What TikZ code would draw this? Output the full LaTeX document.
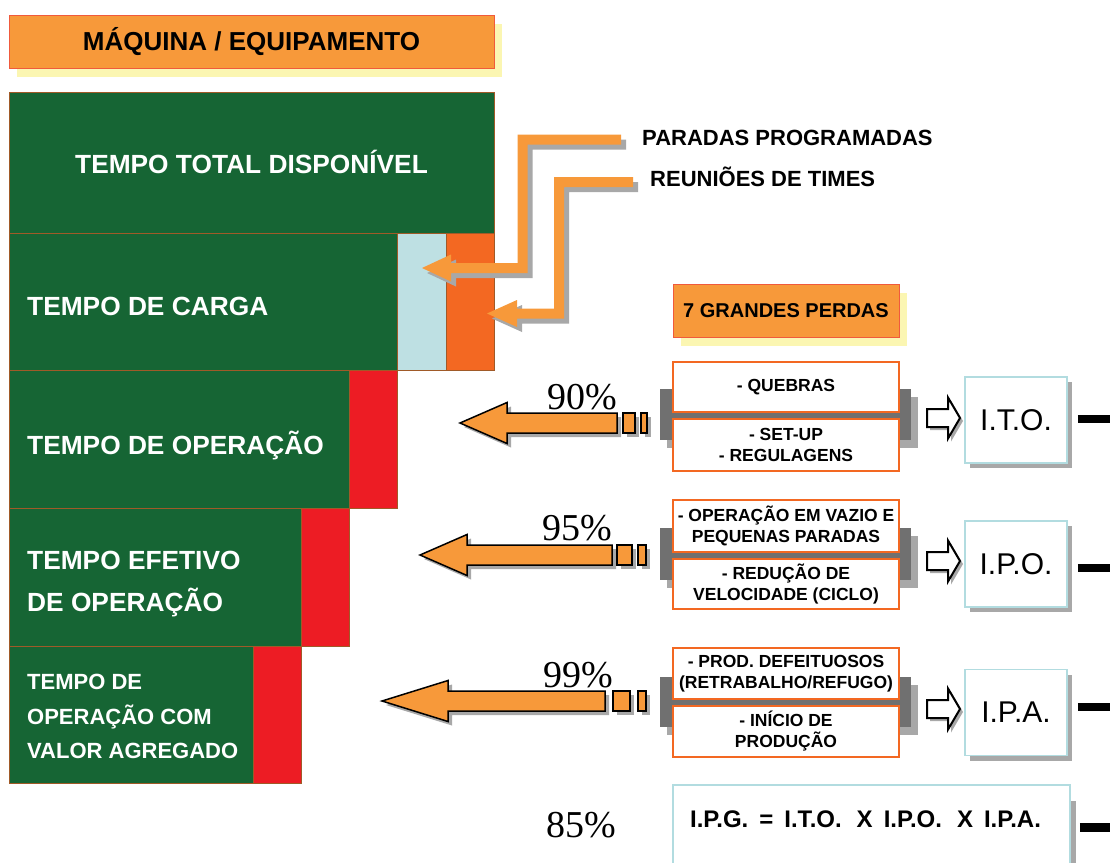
\documentclass[tikz,border=0pt]{standalone}
\usepackage{fontspec}
\setmainfont{Liberation Sans}
\newfontfamily\serifpct{Liberation Serif}
\usetikzlibrary{shadows}

\definecolor{dkgreen}{RGB}{22,101,52}
\definecolor{lossred}{RGB}{237,28,36}
\definecolor{ltblue}{RGB}{190,224,227}
\definecolor{blkorange}{RGB}{243,104,34}
\definecolor{arroworange}{RGB}{247,153,58}
\definecolor{titleborder}{RGB}{240,90,60}
\definecolor{yellowshadow}{RGB}{251,246,178}
\definecolor{lossborder}{RGB}{243,104,34}
\definecolor{graydark}{RGB}{112,112,112}
\definecolor{graylight}{RGB}{168,168,168}
\definecolor{boxblue}{RGB}{178,220,224}
\definecolor{blockline}{RGB}{160,90,40}

\tikzset{
  blk/.style={draw=blockline, line width=0.8pt},
  gtext/.style={text=white, font=\bfseries\fontsize{26.3}{30}\selectfont, inner sep=0pt, anchor=base west},
  gtextsm/.style={gtext, font=\bfseries\fontsize{22}{26}\selectfont},
  titlebox/.style={draw=titleborder, line width=1pt, fill=arroworange, inner sep=0pt,
    font=\bfseries\fontsize{26}{30}\selectfont,
    drop shadow={shadow xshift=8pt, shadow yshift=-9pt, fill=yellowshadow, opacity=1}},
  sidelabel/.style={font=\bfseries\fontsize{22}{26}\selectfont, inner sep=0pt, anchor=base west},
  lossbox/.style={draw=lossborder, line width=2pt, fill=white, minimum width=226pt, minimum height=51pt,
    inner sep=0pt, align=center, font=\bfseries\fontsize{17.5}{21}\selectfont},
  idxbox/.style={draw=boxblue, line width=1.5pt, fill=white, minimum width=102pt, minimum height=86pt,
    inner sep=0pt, font=\fontsize{30}{34}\selectfont,
    drop shadow={shadow xshift=5pt, shadow yshift=-5pt, fill=graylight, opacity=1}},
  pct/.style={font=\serifpct\fontsize{38}{40}\selectfont, inner sep=0pt, anchor=base east},
  shadowgray/.style={fill=graylight},
  blackbar/.style={line width=8pt, draw=black},
}

% fat orange arrow with two little squares
% #1 tip x, #2 centre y, #3 head back x, #4 shaft end x, #5-#6 square 1, #7-#8 square 2
\newcommand\fatarrow[8]{%
  \begin{scope}[shift={(4,4)}]
    \fill[shadowgray] ({#4},{#2-10}) -- ({#3},{#2-10}) -- ({#3},{#2-20.5}) -- ({#1},{#2})
      -- ({#3},{#2+20.5}) -- ({#3},{#2+10}) -- ({#4},{#2+10}) -- cycle;
    \fill[shadowgray] ({#5},{#2-10}) rectangle ({#6},{#2+10});
    \fill[shadowgray] ({#7},{#2-10}) rectangle ({#8},{#2+10});
  \end{scope}
  \filldraw[fill=arroworange, draw=black, line width=1.5pt, line join=miter]
    ({#4},{#2-10}) -- ({#3},{#2-10}) -- ({#3},{#2-20.5}) -- ({#1},{#2})
    -- ({#3},{#2+20.5}) -- ({#3},{#2+10}) -- ({#4},{#2+10}) -- cycle;
  \filldraw[fill=arroworange, draw=black, line width=1.5pt] ({#5},{#2-10}) rectangle ({#6},{#2+10});
  \filldraw[fill=arroworange, draw=black, line width=1.5pt] ({#7},{#2-10}) rectangle ({#8},{#2+10});
}

% hollow block arrow, #1 centre y
\newcommand\hollowarrow[1]{%
  \fill[shadowgray] (930,{#1-6}) -- (951,{#1-6}) -- (951,{#1-17.5}) -- (963,{#1+3})
    -- (951,{#1+23.5}) -- (951,{#1+12}) -- (930,{#1+12}) -- cycle;
  \filldraw[fill=white, draw=black, line width=2pt, line join=miter]
    (927,{#1-9}) -- (948,{#1-9}) -- (948,{#1-20.5}) -- (960,{#1}) -- (948,{#1+20.5})
    -- (948,{#1+9}) -- (927,{#1+9}) -- cycle;
}

% grey bar behind loss boxes, #1 top y, #2 bottom y
\newcommand\graybar[2]{%
  \fill[graylight] (667,{#1+8}) rectangle (918,{#2+8});
  \fill[graydark] (660,{#1}) rectangle (911,{#2});
}

\begin{document}
\begin{tikzpicture}[x=1pt,y=-1pt]
\useasboundingbox (0,0) rectangle (1110,862);
\clip (0,0) rectangle (1110,862);
\fill[white] (0,0) rectangle (1110,862);

% ---------- title ----------
\node[titlebox, minimum width=485pt, minimum height=53pt] (title) at (251.5,41.5) {MÁQUINA / EQUIPAMENTO};

% ---------- time blocks ----------
\filldraw[fill=dkgreen, blk] (9,92) rectangle (494,233);
\filldraw[fill=dkgreen, blk] (9,233) rectangle (397,370);
\filldraw[fill=ltblue, blk] (397,233) rectangle (446,370);
\filldraw[fill=blkorange, blk] (446,233) rectangle (494,370);
\filldraw[fill=dkgreen, blk] (9,370) rectangle (349,508);
\filldraw[fill=lossred, blk] (349,370) rectangle (397,508);
\filldraw[fill=dkgreen, blk] (9,508) rectangle (301,646);
\filldraw[fill=lossred, blk] (301,508) rectangle (349,646);
\filldraw[fill=dkgreen, blk] (9,646) rectangle (253,783);
\filldraw[fill=lossred, blk] (253,646) rectangle (301,783);

\node[gtext, anchor=base] (t1) at (251.5,173) {TEMPO TOTAL DISPONÍVEL};
\node[gtext] (t2) at (27,315) {TEMPO DE CARGA};
\node[gtext] (t3) at (27,454) {TEMPO DE OPERAÇÃO};
\node[gtext] (t4a) at (27,569) {TEMPO EFETIVO};
\node[gtext] (t4b) at (27,611) {DE OPERAÇÃO};
\node[gtextsm] (t5a) at (27,689) {TEMPO DE};
\node[gtextsm] (t5b) at (27,724) {OPERAÇÃO COM};
\node[gtextsm] (t5c) at (27,758) {VALOR AGREGADO};

% ---------- L-shaped arrows ----------
\begin{scope}[shift={(5,5)}]
  \fill[shadowgray] (621,134.5) -- (517.5,134.5) -- (517.5,263) -- (451,263) -- (451,254.5) -- (422,268)
    -- (451,281.5) -- (451,273) -- (527.5,273) -- (527.5,144.5) -- (621,144.5) -- cycle;
  \fill[shadowgray] (633,177) -- (554,177) -- (554,308.5) -- (517,308.5) -- (517,300) -- (487,313.5)
    -- (517,327) -- (517,318.5) -- (564,318.5) -- (564,187) -- (633,187) -- cycle;
\end{scope}
\fill[arroworange] (621,134.5) -- (517.5,134.5) -- (517.5,263) -- (451,263) -- (451,254.5) -- (422,268)
    -- (451,281.5) -- (451,273) -- (527.5,273) -- (527.5,144.5) -- (621,144.5) -- cycle;
\fill[arroworange] (633,177) -- (554,177) -- (554,308.5) -- (517,308.5) -- (517,300) -- (487,313.5)
    -- (517,327) -- (517,318.5) -- (564,318.5) -- (564,187) -- (633,187) -- cycle;

\node[sidelabel] (paradas) at (642,145) {PARADAS PROGRAMADAS};
\node[sidelabel] (reunioes) at (650,186) {REUNIÕES DE TIMES};

% ---------- 7 grandes perdas ----------
\node[titlebox, font=\bfseries\fontsize{20}{24}\selectfont, minimum width=226pt, minimum height=53pt]
  (perdas) at (786,310.5) {7 GRANDES PERDAS};

% ---------- row 1 ----------
\graybar{389}{440}
\node[lossbox, minimum height=50pt] (quebras) at (786,387) {- QUEBRAS};
\node[lossbox, minimum height=52pt] (setup) at (786,445) {- SET-UP\\- REGULAGENS};
\fatarrow{460}{423}{507}{617}{623}{635}{641}{647}
\node[pct] (p90) at (617,409) {90\%};
\hollowarrow{418}
\node[idxbox] (ito) at (1016,420) {I.T.O.};
\coordinate (itoend) at (1112,419);
\draw[blackbar] ([xshift=10pt]ito.east |- itoend) -- (itoend);

% ---------- row 2 ----------
\graybar{528}{580}
\node[lossbox, minimum height=52pt] (vazio) at (786,526) {- OPERAÇÃO EM VAZIO E\\PEQUENAS PARADAS};
\node[lossbox, minimum height=50pt] (veloc) at (786,584) {- REDUÇÃO DE\\VELOCIDADE (CICLO)};
\fatarrow{420}{555}{467}{612}{617}{632}{638}{646}
\node[pct] (p95) at (612,540) {95\%};
\hollowarrow{561}
\node[idxbox] (ipo) at (1016,564) {I.P.O.};
\coordinate (ipoend) at (1112,568);
\draw[blackbar] ([xshift=10pt]ipo.east |- ipoend) -- (ipoend);

% ---------- row 3 ----------
\graybar{677}{727}
\node[lossbox] (defeit) at (786,673.5) {- PROD. DEFEITUOSOS\\(RETRABALHO/REFUGO)};
\node[lossbox] (inicio) at (786,731.5) {- INÍCIO DE\\PRODUÇÃO};
\fatarrow{382}{701}{448}{605}{613}{630}{638}{646}
\node[pct] (p99) at (613,687) {99\%};
\hollowarrow{709}
\node[idxbox] (ipa) at (1016,712.5) {I.P.A.};
\coordinate (ipaend) at (1112,707);
\draw[blackbar] ([xshift=10pt]ipa.east |- ipaend) -- (ipaend);

% ---------- global index ----------
\node[pct] (p85) at (616,837) {85\%};
\node[draw=boxblue, line width=1.5pt, fill=white, minimum width=397pt, minimum height=100pt, inner sep=0pt,
  drop shadow={shadow xshift=6pt, shadow yshift=-16pt, fill=graylight, opacity=1}] (ipgbox) at (871.5,835) {};
\node[font=\bfseries\fontsize{24}{26}\selectfont, inner sep=0pt, anchor=base] (ipg) at (865.5,827)
  {I.P.G.\hspace{11pt}=\hspace{11pt}I.T.O.\hspace{15pt}X\hspace{11pt}I.P.O.\hspace{15pt}X\hspace{11pt}I.P.A.};
\coordinate (ipgend) at (1112,827);
\draw[blackbar, line width=9pt] ([xshift=9pt]ipgbox.east |- ipgend) -- (ipgend);
\end{tikzpicture}
\end{document}
